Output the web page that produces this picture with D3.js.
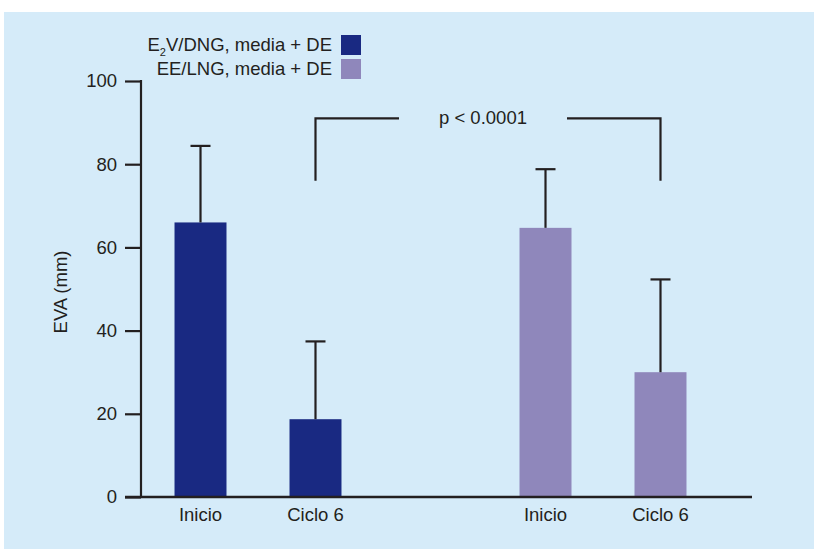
<!DOCTYPE html>
<html>
<head>
<meta charset="utf-8">
<script src="https://cdn.jsdelivr.net/npm/d3@7"></script>
<style>
  body { margin: 0; background: #fff; }
  text { font-family: "Liberation Sans", Arial, sans-serif; fill: #231f20; }
</style>
</head>
<body>
<div id="chart"></div>
<script>
// data
const groups = ["E2V/DNG", "EE/LNG"];
const conditions = ["Inicio", "Ciclo 6"];
const means = [[66, 18.7], [64.7, 30]];
const sds = [[18.4, 18.7], [14.1, 22.3]];
const yTicks = [0, 20, 40, 60, 80, 100];
const groupColors = ["#192982", "#8f87bb"];
const legendLabels = ["V/DNG, media + DE", "EE/LNG, media + DE"];
const pLabel = "p < 0.0001";
const bracketLevel = 91;
const bracketFoot = 76;

const width = 814, height = 549;
const svg = d3.select("#chart").append("svg")
  .attr("width", width)
  .attr("height", height);

// panel background
svg.append("rect")
  .attr("x", 4).attr("y", 12)
  .attr("width", width - 4).attr("height", height - 12)
  .attr("fill", "#d5ebf9");

const axisX = 141, axisEnd = 752;
const y = d3.scaleLinear().domain([0, 100]).range([497, 81]);

const x0 = d3.scaleBand()
  .domain(groups)
  .range([111.5, 749.5])
  .paddingInner(52 / 345)
  .paddingOuter(0);

const x1 = d3.scaleBand()
  .domain(conditions)
  .range([0, x0.bandwidth()])
  .paddingInner(0.548)
  .paddingOuter(0.548);

const rows = [];
groups.forEach((g, gi) => {
  conditions.forEach((c, ci) => {
    rows.push({ group: g, cond: c, gi, mean: means[gi][ci], sd: sds[gi][ci] });
  });
});

const cx = d => x0(d.group) + x1(d.cond) + x1.bandwidth() / 2;

// bars
svg.append("g").selectAll("rect")
  .data(rows)
  .join("rect")
  .attr("x", d => x0(d.group) + x1(d.cond))
  .attr("y", d => y(d.mean))
  .attr("width", x1.bandwidth())
  .attr("height", d => y(0) - y(d.mean))
  .attr("fill", d => groupColors[d.gi]);

// error bars (upper only)
const err = svg.append("g")
  .attr("stroke", "#231f20")
  .attr("stroke-width", 2.2);
err.selectAll("line.v")
  .data(rows)
  .join("line")
  .attr("class", "v")
  .attr("x1", cx).attr("x2", cx)
  .attr("y1", d => y(d.mean))
  .attr("y2", d => y(d.mean + d.sd));
err.selectAll("line.cap")
  .data(rows)
  .join("line")
  .attr("class", "cap")
  .attr("x1", d => cx(d) - 10).attr("x2", d => cx(d) + 10)
  .attr("y1", d => y(d.mean + d.sd))
  .attr("y2", d => y(d.mean + d.sd));

// y axis
const yAxis = d3.axisLeft(y).tickValues(yTicks).tickSize(16).tickPadding(8);
const gy = svg.append("g")
  .attr("transform", `translate(${axisX},0)`)
  .call(yAxis);
gy.select(".domain").remove();
gy.selectAll(".tick line").attr("stroke", "#231f20").attr("stroke-width", 2.2);
gy.selectAll(".tick text")
  .style("font-size", "18.5px")
  .attr("fill", "#231f20");
gy.append("line")
  .attr("x1", 0).attr("x2", 0)
  .attr("y1", y(100) - 1).attr("y2", y(0))
  .attr("stroke", "#231f20").attr("stroke-width", 2.2);

// x axis baseline
svg.append("line")
  .attr("x1", axisX - 16).attr("x2", axisEnd)
  .attr("y1", y(0)).attr("y2", y(0))
  .attr("stroke", "#231f20").attr("stroke-width", 2.4);

// x labels
svg.append("g").selectAll("text")
  .data(rows)
  .join("text")
  .attr("x", cx)
  .attr("y", 521)
  .attr("text-anchor", "middle")
  .style("font-size", "18.5px")
  .text(d => d.cond);

// y label
svg.append("text")
  .attr("transform", `translate(67,292) rotate(-90)`)
  .attr("text-anchor", "middle")
  .style("font-size", "18.5px")
  .text("EVA (mm)");

// significance bracket between Ciclo 6 bars
const bx1 = x0(groups[0]) + x1(conditions[1]) + x1.bandwidth() / 2;
const bx2 = x0(groups[1]) + x1(conditions[1]) + x1.bandwidth() / 2;
const mid = (bx1 + bx2) / 2 - 5;
const gap = 84;
const br = svg.append("g")
  .attr("fill", "none")
  .attr("stroke", "#231f20")
  .attr("stroke-width", 2.2);
br.append("path")
  .attr("d", `M${bx1},${y(bracketFoot)}V${y(bracketLevel)}H${mid - gap}`);
br.append("path")
  .attr("d", `M${mid + gap},${y(bracketLevel)}H${bx2}V${y(bracketFoot)}`);
svg.append("text")
  .attr("x", mid)
  .attr("y", y(bracketLevel) + 6)
  .attr("text-anchor", "middle")
  .style("font-size", "18.5px")
  .text(pLabel);

// legend
const legend = svg.append("g");
const legendRows = legend.selectAll("g")
  .data(groups)
  .join("g")
  .attr("transform", (d, i) => `translate(0,${35 + i * 24})`);
legendRows.append("rect")
  .attr("x", 341).attr("y", 0)
  .attr("width", 20).attr("height", 20)
  .attr("fill", (d, i) => groupColors[i]);
const lt = legendRows.append("text")
  .attr("x", 332)
  .attr("y", 16)
  .attr("text-anchor", "end")
  .style("font-size", "18.5px");
lt.each(function (d, i) {
  const t = d3.select(this);
  if (i === 0) {
    t.append("tspan").text("E");
    t.append("tspan").attr("dy", 5).style("font-size", "11px").text("2");
    t.append("tspan").attr("dy", -5).text(legendLabels[0]);
  } else {
    t.text(legendLabels[1]);
  }
});
</script>
</body>
</html>
